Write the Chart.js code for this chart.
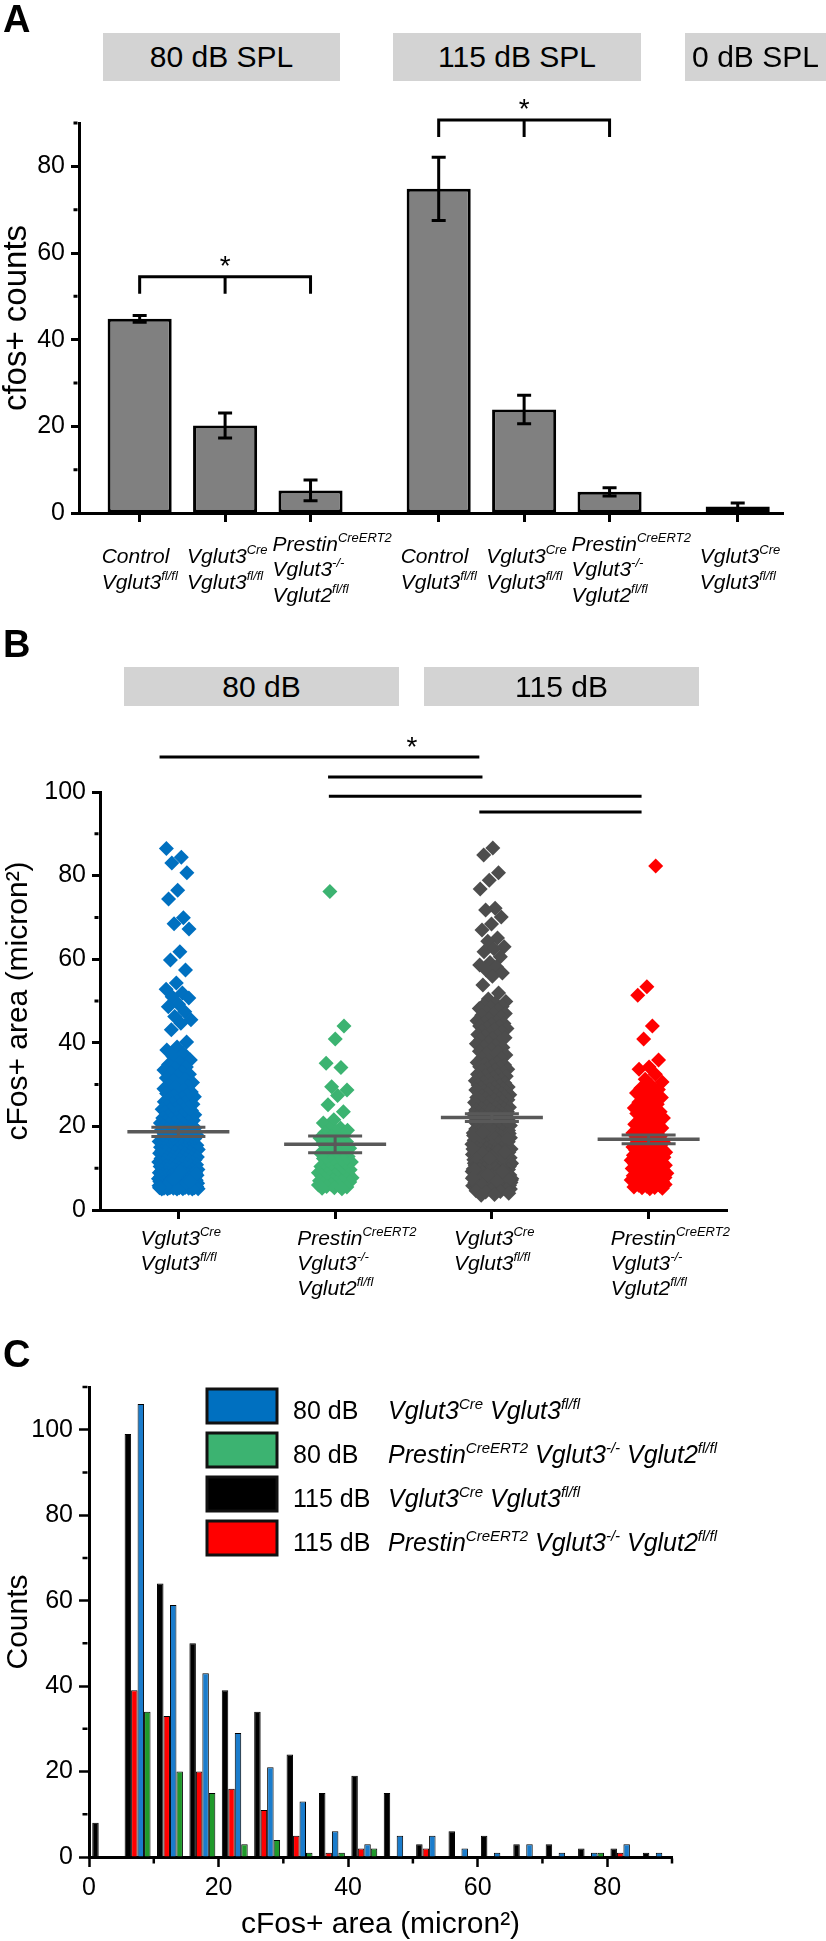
<!DOCTYPE html>
<html>
<head>
<meta charset="utf-8">
<title>cFos counts and areas</title>
<script src="https://cdn.jsdelivr.net/npm/chart.js@4.4.1/dist/chart.umd.min.js"></script>
<style>
  html, body { margin: 0; padding: 0; background: #fff; }
  body { position: relative; width: 826px; height: 1941px; overflow: hidden; font-family: "Liberation Sans", Arial, sans-serif; }
  canvas { position: absolute; left: 0; }
  .letter { position: absolute; left: 3px; font-size: 38px; font-weight: bold; line-height: 1; }
  .hdr { position: absolute; background: #d3d3d3; font-size: 30px; display: flex; align-items: center; justify-content: center; white-space: nowrap; overflow: hidden; }
</style>
</head>
<body>
<canvas id="chartA" width="826" height="620" style="top:0"></canvas>
<canvas id="chartB" width="826" height="700" style="top:620px"></canvas>
<canvas id="chartC" width="826" height="621" style="top:1320px"></canvas>
<div class="letter" style="top:0">A</div>
<div class="letter" style="top:625px">B</div>
<div class="letter" style="top:1335px">C</div>
<script>
// ---------- panel A : cfos+ counts ----------
const aHeaders = ['80 dB SPL', '115 dB SPL', '0 dB SPL'];
const aCategories = [
  ['Control', 'Vglut3^{fl/fl}'],
  ['Vglut3^{Cre}', 'Vglut3^{fl/fl}'],
  ['Prestin^{CreERT2}', 'Vglut3^{-/-}', 'Vglut2^{fl/fl}'],
  ['Control', 'Vglut3^{fl/fl}'],
  ['Vglut3^{Cre}', 'Vglut3^{fl/fl}'],
  ['Prestin^{CreERT2}', 'Vglut3^{-/-}', 'Vglut2^{fl/fl}'],
  ['Vglut3^{Cre}', 'Vglut3^{fl/fl}']
];
const aGroupSizes = [3, 3, 1];
const aMeans = [44.8, 20.2, 5.2, 74.8, 23.9, 4.9, 1.5];
const aSem = [0.8, 2.9, 2.4, 7.3, 3.3, 0.95, 0.8];
const aYTicks = [0, 20, 40, 60, 80];
const aYMinor = [10, 30, 50, 70, 90];
const aSig = [{from: 0, to: 2, y: 54.5}, {from: 3, to: 5, y: 90.7}];

// ---------- panel B : cFos+ area per cell ----------
const bHeaders = ['80 dB', '115 dB'];
const bCategories = [
  ['Vglut3^{Cre}', 'Vglut3^{fl/fl}'],
  ['Prestin^{CreERT2}', 'Vglut3^{-/-}', 'Vglut2^{fl/fl}'],
  ['Vglut3^{Cre}', 'Vglut3^{fl/fl}'],
  ['Prestin^{CreERT2}', 'Vglut3^{-/-}', 'Vglut2^{fl/fl}']
];
const bBlue = [86.5, 84.4, 83.0, 80.7, 76.5, 74.4, 69.9, 68.5, 67.2, 61.8, 59.8, 57.4, 54.3, 52.8, 51.9, 51.0, 50.7,
  49.2, 48.6, 47.4, 46.3, 45.5, 44.7, 43.1, 40.2, 39.0, 38.3, 37.5, 36.7, 35.9, 35.2,
  34.8, 34.2, 33.9, 33.5, 33.0, 32.8, 32.5, 32.1, 31.6, 31.3, 31.0, 30.5, 30.2,
  29.8, 29.6, 29.4, 29.0, 28.9, 28.6, 28.2, 28.0, 27.9, 27.5, 27.3, 27.1, 26.8, 26.6, 26.4, 26.0, 25.9, 25.7, 25.5, 25.3, 25.1,
  24.8, 24.5, 24.3, 24.1, 24.0, 23.9, 23.8, 23.6, 23.5, 23.2, 23.0, 22.8, 22.6, 22.5, 22.3, 22.1, 22.0, 21.9, 21.7, 21.5,
  21.4, 21.2, 21.1, 20.9, 20.8, 20.6, 20.5, 20.3, 20.1,
  19.9, 19.8, 19.7, 19.6, 19.5, 19.4, 19.3, 19.2, 19.1, 19.0, 18.8, 18.7, 18.6, 18.4, 18.3, 18.1, 18.0,
  17.9, 17.7, 17.6, 17.5, 17.4, 17.3, 17.2, 17.1, 17.0, 16.9, 16.8, 16.6, 16.4, 16.3, 16.2, 16.1, 16.0,
  15.9, 15.8, 15.7, 15.5, 15.4, 15.3, 15.2, 15.1, 15.0,
  14.9, 14.9, 14.8, 14.8, 14.7, 14.6, 14.6, 14.5, 14.4, 14.4, 14.3, 14.3, 14.2, 14.2, 14.1, 14.1, 14.0, 14.0,
  13.9, 13.8, 13.6, 13.5, 13.3, 13.2, 13.1, 13.0, 12.9, 12.8, 12.7, 12.6, 12.5, 12.5, 12.4, 12.3, 12.2, 12.1, 12.0,
  11.9, 11.8, 11.7, 11.6, 11.5, 11.4, 11.3, 11.3, 11.2, 11.1, 11.0, 10.9, 10.8, 10.7, 10.6, 10.6, 10.5, 10.4, 10.3, 10.2, 10.1, 10.0,
  9.9, 9.8, 9.8, 9.7, 9.6, 9.6, 9.5, 9.4, 9.4, 9.3, 9.2, 9.1, 9.1, 9.0, 9.0,
  8.9, 8.9, 8.8, 8.7, 8.7, 8.6, 8.5, 8.4, 8.4, 8.3, 8.2, 8.2, 8.1, 8.0, 8.0,
  7.9, 7.9, 7.8, 7.8, 7.7, 7.7, 7.6, 7.5, 7.5, 7.4, 7.4, 7.3, 7.3, 7.2, 7.1, 7.1, 7.0, 7.0,
  6.9, 6.9, 6.8, 6.8, 6.7, 6.7, 6.6, 6.6, 6.5, 6.5, 6.4, 6.4, 6.3, 6.3, 6.2, 6.2, 6.1, 6.1, 6.0, 6.0,
  5.9, 5.9, 5.9, 5.8, 5.8, 5.8, 5.7, 5.7, 5.7, 5.6, 5.6, 5.6, 5.5, 5.5, 5.5, 5.4, 5.4, 5.4, 5.3, 5.3,
  5.3, 5.2, 5.2, 5.2, 5.1, 5.1, 5.1, 5.0, 5.0, 5.0, 6.5, 7.2, 8.6, 9.2, 5.6, 6.8, 7.6, 5.3];
const bGreen = [76.2, 44.0, 40.9, 35.1, 34.1, 29.5, 28.7, 27.4, 25.2, 23.5, 21.6, 20.8,
  19.6, 19.3, 19.1, 18.8, 18.5, 18.0, 17.6, 17.2, 17.0, 16.8, 16.3, 16.0, 15.9, 15.5, 15.2,
  14.8, 14.5, 14.3, 14.0, 13.9, 13.6, 13.4, 13.0, 12.8, 12.6, 12.3, 12.1, 11.7, 11.5, 11.3, 11.0, 10.8, 10.6, 10.4, 10.1,
  9.8, 9.6, 9.5, 9.3, 9.2, 9.1, 8.9, 8.8, 8.6, 8.5, 8.4, 8.2, 8.1, 7.9, 7.7, 7.6, 7.5, 7.4, 7.2, 7.0,
  6.9, 6.8, 6.7, 6.5, 6.3, 6.2, 6.1, 6.0, 5.8, 5.6, 5.5, 5.3, 5.2, 5.1];
const bGray = [86.6, 84.9, 80.7, 78.9, 76.8, 72.2, 71.8, 70.1, 68.4, 67.0, 65.1, 64.3, 63.0, 62.5, 61.8, 60.6,
  59.2, 58.6, 58.2, 57.4, 56.7, 55.9, 53.8, 51.9, 50.5,
  49.9, 49.5, 49.1, 48.7, 48.4, 48.2, 47.8, 47.4, 47.0, 46.9, 46.6, 46.1, 45.7, 45.3, 45.0,
  44.8, 44.6, 44.4, 44.0, 43.9, 43.6, 43.4, 43.2, 42.8, 42.6, 42.4, 42.0, 41.8, 41.6, 41.2, 41.0, 40.8, 40.4, 40.1,
  39.8, 39.3, 39.0, 38.9, 38.4, 38.0, 37.8, 37.5, 37.1, 36.6, 36.4, 36.2, 35.7, 35.3, 35.1,
  34.9, 34.7, 34.5, 34.3, 34.1, 33.9, 33.7, 33.5, 33.3, 32.9, 32.7, 32.5, 32.3, 32.1, 32.0, 31.7, 31.5, 31.3, 31.1, 30.9,
  30.7, 30.5, 30.4, 30.2,
  29.9, 29.8, 29.6, 29.4, 29.3, 29.1, 29.0, 28.8, 28.7, 28.5, 28.4, 28.2, 28.1, 28.0, 27.9, 27.8, 27.6, 27.5, 27.3, 27.2,
  27.0, 26.9, 26.7, 26.6, 26.4, 26.3, 26.1, 26.0, 25.8, 25.7, 25.5, 25.4, 25.2, 25.1,
  24.9, 24.8, 24.7, 24.6, 24.5, 24.3, 24.2, 24.0, 23.9, 23.7, 23.6, 23.5, 23.4, 23.3, 23.1, 23.0, 22.9, 22.8, 22.7, 22.5,
  22.4, 22.3, 22.2, 22.1, 21.9, 21.8, 21.6, 21.5, 21.3, 21.2, 21.1, 21.0, 20.9, 20.7, 20.6, 20.4, 20.3, 20.2, 20.1,
  19.9, 19.7, 19.6, 19.4, 19.3, 19.1, 19.0, 18.9, 18.8, 18.6, 18.5, 18.4, 18.2, 18.1, 18.0, 17.9, 17.7, 17.6, 17.5, 17.3,
  17.2, 17.1, 16.9, 16.8, 16.7, 16.6, 16.4, 16.3, 16.2, 16.0, 15.9, 15.8, 15.7, 15.5, 15.4, 15.3, 15.2, 15.1, 15.0, 19.5,
  18.3, 17.4, 16.5, 15.6, 19.2, 17.8, 16.1, 18.7, 17.0, 15.4,
  14.9, 14.8, 14.7, 14.6, 14.5, 14.4, 14.3, 14.2, 14.1, 14.0, 13.9, 13.8, 13.7, 13.6, 13.5, 13.4, 13.3, 13.2, 13.1, 13.0,
  12.9, 12.8, 12.7, 12.6, 12.5, 12.4, 12.3, 12.2, 12.1, 12.0, 11.9, 11.8, 11.7, 11.6, 11.5, 11.4, 11.3, 11.2, 11.1, 11.0,
  10.9, 10.8, 10.7, 10.6, 10.5, 10.4, 10.3, 10.2, 10.1, 10.0, 14.6, 14.1, 13.5, 13.0, 12.6, 12.2, 11.8, 11.4, 11.0, 10.7,
  10.3, 13.8, 12.4, 11.2,
  9.9, 9.8, 9.7, 9.6, 9.5, 9.4, 9.3, 9.2, 9.1, 9.0, 8.9, 8.8, 8.7, 8.6, 8.5, 8.4, 8.3, 8.2, 8.1, 8.0,
  7.9, 7.8, 7.7, 7.6, 7.5, 7.4, 7.3, 7.2, 7.1, 7.0, 6.9, 6.8, 6.7, 6.6, 6.5, 6.4, 6.3, 6.2, 6.1, 6.0,
  5.9, 5.8, 5.7, 5.6, 5.5, 5.4, 5.3, 5.2, 5.1, 5.0, 9.9, 9.7, 9.5, 9.3, 9.1, 8.9, 8.7, 8.5, 8.3, 8.1,
  7.9, 7.7, 7.5, 7.3, 7.1, 6.9, 6.7, 6.5, 6.3, 6.1, 5.9, 5.7, 5.5, 5.3, 5.1, 9.8, 9.4, 9.0, 8.6, 8.2,
  7.8, 7.4, 7.0, 6.6, 6.2, 5.8, 5.4, 5.0, 9.6, 8.8, 8.0, 7.2, 6.4, 5.6, 9.2, 8.4, 7.6, 6.8, 6.0,
  4.9, 4.8, 4.6, 4.4, 4.3, 4.0, 3.7, 3.5];
const bRed = [82.3, 53.4, 51.4, 44.0, 40.9, 35.9, 34.2, 33.7, 32.5, 31.3, 30.6,
  29.7, 29.1, 28.8, 28.5, 28.0, 27.4, 27.0, 26.9, 26.3, 25.8, 25.3,
  24.8, 24.4, 24.1, 23.9, 23.5, 23.3, 23.1, 22.6, 22.2, 22.0, 21.8, 21.3, 21.0, 20.9, 20.5, 20.2,
  19.8, 19.6, 19.4, 19.0, 18.9, 18.6, 18.4, 18.2, 17.8, 17.6, 17.4, 17.0, 16.9, 16.6, 16.2, 16.0, 15.8, 15.6, 15.4, 15.1,
  14.9, 14.7, 14.6, 14.4, 14.3, 14.2, 14.0, 13.8, 13.7, 13.5, 13.4, 13.3, 13.1, 12.9, 12.8, 12.6, 12.5, 12.4, 12.2, 12.0,
  11.9, 11.8, 11.6, 11.5, 11.3, 11.1, 11.0, 10.9, 10.7, 10.6, 10.4, 10.2, 10.1,
  9.9, 9.8, 9.6, 9.5, 9.4, 9.3, 9.1, 9.0, 8.8, 8.7, 8.6, 8.5, 8.4, 8.2, 8.1, 7.9, 7.8, 7.7, 7.6, 7.5,
  7.3, 7.2, 7.0, 6.9, 6.8, 6.7, 6.6, 6.4, 6.3, 6.1, 6.0, 5.9, 5.8, 5.7, 5.5, 5.4, 5.3, 5.2, 5.1];
const bMeans = [18.7, 15.7, 22.1, 16.9];
const bSem = [1.1, 2.0, 0.9, 1.05];
const bYTicks = [0, 20, 40, 60, 80, 100];
const bYMinor = [10, 30, 50, 70, 90];
// significance lines: [from x, to x, y]; the star sits over the first one
const bSig = [[0.88, 2.92, 108.4], [1.955, 2.94, 103.6], [1.96, 3.955, 99.0], [2.92, 3.955, 95.2]];
const bStar = {x: 2.49, y: 108.4};

// ---------- panel C : histogram of cFos+ area ----------
const cBins = [0, 5, 10, 15, 20, 25, 30, 35, 40, 45, 50, 55, 60, 65, 70, 75, 80, 85];
const cBlack = [8, 99, 64, 50, 39, 34, 24, 15, 19, 15, 3, 6, 5, 3, 3, 2, 2, 1];
const cRed = [0, 39, 33, 20, 16, 11, 5, 1, 2, 0, 2, 0, 0, 0, 0, 0, 1, 0];
const cBlue = [0, 106, 59, 43, 29, 21, 13, 6, 3, 5, 5, 2, 1, 3, 1, 1, 3, 1];
const cGreen = [0, 34, 20, 15, 3, 4, 1, 1, 2, 0, 0, 0, 0, 0, 0, 1, 0, 0];
const cXTicks = [0, 20, 40, 60, 80];
const cXMinor = [10, 30, 50, 70, 90];
const cYTicks = [0, 20, 40, 60, 80, 100];
const cYMinor = [10, 30, 50, 70, 90, 110];
const cLegend = [
  {level: '80 dB', genotype: 'Vglut3^{Cre} Vglut3^{fl/fl}', color: '#0070c0'},
  {level: '80 dB', genotype: 'Prestin^{CreERT2} Vglut3^{-/-} Vglut2^{fl/fl}', color: '#3cb371'},
  {level: '115 dB', genotype: 'Vglut3^{Cre} Vglut3^{fl/fl}', color: '#000000'},
  {level: '115 dB', genotype: 'Prestin^{CreERT2} Vglut3^{-/-} Vglut2^{fl/fl}', color: '#ff0000'}
];

// ---------- helpers ----------
const FONT = '"Liberation Sans", Arial, Helvetica, sans-serif';
Chart.defaults.font.family = FONT;
Chart.defaults.color = '#000';

function addHeaders(texts, boxes) {
  texts.forEach((t, i) => {
    const b = boxes[i];
    const d = document.createElement('div');
    d.className = 'hdr';
    d.textContent = t;
    d.style.left = b[0] + 'px'; d.style.top = b[1] + 'px';
    d.style.width = b[2] + 'px'; d.style.height = b[3] + 'px';
    document.body.appendChild(d);
  });
}
addHeaders(aHeaders, [[103, 33, 237, 48], [393, 33, 248, 48], [685, 33, 141, 48]]);
addHeaders(bHeaders, [[124, 667, 275, 39], [424, 667, 275, 39]]);

// "Vglut3^{fl/fl}" -> text pieces, superscripts marked
function pieces(s) {
  return s.split(/(\^\{[^}]*\})/).filter(p => p).map(p =>
    p.startsWith('^{') ? {t: p.slice(2, -1), sup: true} : {t: p, sup: false});
}
function richText(ctx, s, x, y, size, supSize, align) {
  const parts = pieces(s);
  const f = sz => 'italic ' + sz + 'px ' + FONT;
  let w = 0;
  parts.forEach(p => { ctx.font = f(p.sup ? supSize : size); p.w = ctx.measureText(p.t).width; w += p.w; });
  let cx = align === 'center' ? x - w / 2 : x;
  ctx.textAlign = 'left';
  ctx.textBaseline = 'alphabetic';
  parts.forEach(p => {
    ctx.font = f(p.sup ? supSize : size);
    ctx.fillText(p.t, cx, p.sup ? y - size * 0.42 : y);
    cx += p.w;
  });
}
// tick labels under a category: lines left-aligned a fixed distance left of the tick
function categoryLabels(chart, labels, positions, baseY, lineH, centered) {
  const ctx = chart.ctx, xs = chart.scales.x;
  ctx.save();
  ctx.fillStyle = '#000';
  labels.forEach((lines, i) => {
    const x = xs.getPixelForValue(positions[i]) - 38;
    const y0 = centered ? baseY - (lines.length - 1) * lineH / 2 : baseY;
    lines.forEach((ln, k) => richText(ctx, ln, x, y0 + k * lineH, 21, 13, 'left'));
  });
  ctx.restore();
}
function minorTicks(chart, axisId, values, len, width) {
  const s = chart.scales[axisId], ctx = chart.ctx, a = chart.chartArea;
  ctx.save();
  ctx.strokeStyle = '#000';
  ctx.lineWidth = width;
  ctx.beginPath();
  values.forEach(v => {
    const p = s.getPixelForValue(v);
    if (s.isHorizontal()) { ctx.moveTo(p, a.bottom + 1.5); ctx.lineTo(p, a.bottom + 1.5 + len); }
    else { ctx.moveTo(a.left - 1.5, p); ctx.lineTo(a.left - 1.5 - len, p); }
  });
  ctx.stroke();
  ctx.restore();
}
function axisStyle(extra) {
  return Object.assign({
    offset: false,
    grid: {offset: false, drawOnChartArea: false, tickLength: 8, tickWidth: 3, tickColor: '#000'},
    border: {width: 3, color: '#000'}
  }, extra);
}

// positions of the bars in panel A: groups separated by half a slot
const aPos = [];
{
  let p = 1;
  aGroupSizes.forEach(n => { for (let k = 0; k < n; k++) aPos.push(p++); p += 0.5; });
}

// ---------- chart A ----------
const panelA = {
  id: 'panelA',
  afterDatasetsDraw(chart) {
    const ctx = chart.ctx, xs = chart.scales.x, ys = chart.scales.y;
    ctx.save();
    ctx.strokeStyle = '#000';
    ctx.lineWidth = 3;
    aPos.forEach((p, i) => {
      const x = xs.getPixelForValue(p);
      const t = ys.getPixelForValue(aMeans[i] + aSem[i]);
      const b = ys.getPixelForValue(aMeans[i] - aSem[i]);
      ctx.beginPath();
      ctx.moveTo(x, t); ctx.lineTo(x, b);
      ctx.moveTo(x - 7, t); ctx.lineTo(x + 7, t);
      ctx.moveTo(x - 7, b); ctx.lineTo(x + 7, b);
      ctx.stroke();
    });
    ctx.restore();
  },
  afterDraw(chart) {
    const ctx = chart.ctx, xs = chart.scales.x, ys = chart.scales.y;
    minorTicks(chart, 'y', aYMinor, 4, 3);
    ctx.save();
    ctx.strokeStyle = '#000';
    ctx.fillStyle = '#000';
    ctx.lineWidth = 3;
    aSig.forEach(s => {
      const x1 = xs.getPixelForValue(aPos[s.from]);
      const x2 = xs.getPixelForValue(aPos[s.to]);
      const xm = xs.getPixelForValue(aPos[(s.from + s.to) / 2]);
      const y = ys.getPixelForValue(s.y);
      ctx.beginPath();
      ctx.moveTo(x1, y + 17); ctx.lineTo(x1, y); ctx.lineTo(x2, y); ctx.lineTo(x2, y + 17);
      ctx.moveTo(xm, y); ctx.lineTo(xm, y + 17);
      ctx.stroke();
      ctx.font = '28px ' + FONT;
      ctx.textAlign = 'center';
      ctx.textBaseline = 'alphabetic';
      ctx.fillText('*', xm, y - 2);
    });
    ctx.restore();
    categoryLabels(chart, aCategories, aPos, chart.chartArea.bottom + 63, 25.5, true);
  }
};

new Chart(document.getElementById('chartA'), {
  type: 'bar',
  data: {
    datasets: [{
      data: aPos.map((x, i) => ({x: x, y: aMeans[i]})),
      backgroundColor: '#808080',
      borderColor: '#000',
      borderWidth: 3,
      borderSkipped: false,
      barPercentage: 0.75,
      categoryPercentage: 1
    }]
  },
  options: {
    responsive: false,
    animation: false,
    devicePixelRatio: 1,
    layout: {padding: {top: 123, left: 0, right: 43, bottom: 98}},
    plugins: {legend: {display: false}, tooltip: {enabled: false}},
    scales: {
      x: axisStyle({
        type: 'linear', min: 0.29, max: 8.53,
        afterBuildTicks: s => { s.ticks = aPos.map(v => ({value: v})); },
        ticks: {callback: () => ''},
        grid: {offset: false, drawOnChartArea: false, tickLength: 9, tickWidth: 3, tickColor: '#000'},
        afterFit: s => { s.height = 9; }
      }),
      y: axisStyle({
        min: 0, max: 90,
        afterBuildTicks: s => { s.ticks = aYTicks.map(v => ({value: v})); },
        ticks: {font: {size: 25}, padding: 6, color: '#000'},
        title: {display: true, text: 'cfos+ counts', font: {size: 33, lineHeight: 1}, padding: 0, color: '#000'},
        afterFit: s => { s.width = 79; }
      })
    }
  },
  plugins: [panelA]
});

// ---------- chart B ----------
const bColors = ['#0070c0', '#3cb371', '#4d4d4d', '#ff0000'];
const bSeries = [bBlue, bGreen, bGray, bRed];
const bPos = bCategories.map((c, i) => i + 1);
const bPxPerUnit = (727 - 100) / 4;

// column layout of the points: wider where values are dense
function swarm(values, center, seed) {
  return values.map((v, i) => {
    let d = 0;
    values.forEach(w => { if (Math.abs(w - v) < 2.5) d++; });
    const half = Math.min(20, 10 + 1.4 * Math.sqrt(d));
    const u = ((i * 0.6180339887 + seed) % 1) * 2 - 1;
    return {x: center + u * half / bPxPerUnit, y: v};
  });
}

const panelB = {
  id: 'panelB',
  afterDatasetsDraw(chart) {
    const ctx = chart.ctx, xs = chart.scales.x, ys = chart.scales.y;
    ctx.save();
    ctx.strokeStyle = '#595959';
    bMeans.forEach((m, i) => {
      const x = xs.getPixelForValue(bPos[i]);
      const ym = ys.getPixelForValue(m);
      const yt = ys.getPixelForValue(m + bSem[i]);
      const yb = ys.getPixelForValue(m - bSem[i]);
      ctx.lineWidth = 3.5;
      ctx.beginPath(); ctx.moveTo(x - 51, ym); ctx.lineTo(x + 51, ym); ctx.stroke();
      ctx.lineWidth = 3;
      ctx.beginPath();
      ctx.moveTo(x - 27, yt); ctx.lineTo(x + 27, yt);
      ctx.moveTo(x - 27, yb); ctx.lineTo(x + 27, yb);
      ctx.moveTo(x, yt); ctx.lineTo(x, yb);
      ctx.stroke();
    });
    ctx.restore();
  },
  afterDraw(chart) {
    const ctx = chart.ctx, xs = chart.scales.x, ys = chart.scales.y;
    minorTicks(chart, 'y', bYMinor, 4, 3);
    ctx.save();
    ctx.strokeStyle = '#000';
    ctx.lineWidth = 3;
    ctx.beginPath();
    bSig.forEach(s => {
      const y = ys.getPixelForValue(s[2]);
      ctx.moveTo(xs.getPixelForValue(s[0]), y);
      ctx.lineTo(xs.getPixelForValue(s[1]), y);
    });
    ctx.stroke();
    ctx.fillStyle = '#000';
    ctx.font = '28px ' + FONT;
    ctx.textAlign = 'center';
    ctx.fillText('*', xs.getPixelForValue(bStar.x), ys.getPixelForValue(bStar.y) - 1);
    ctx.restore();
    categoryLabels(chart, bCategories, bPos, chart.chartArea.bottom + 35, 25, false);
  }
};

new Chart(document.getElementById('chartB'), {
  type: 'scatter',
  data: {
    datasets: bSeries.map((vals, i) => ({
      data: swarm(vals, bPos[i], i * 0.27),
      backgroundColor: bColors[i],
      borderWidth: 0,
      pointStyle: 'rectRot',
      pointRadius: 7.5,
      pointHoverRadius: 7.5
    }))
  },
  options: {
    responsive: false,
    animation: false,
    devicePixelRatio: 1,
    layout: {padding: {top: 172, left: 0, right: 99, bottom: 101}},
    plugins: {legend: {display: false}, tooltip: {enabled: false}},
    scales: {
      x: axisStyle({
        type: 'linear', min: 0.5, max: 4.5,
        afterBuildTicks: s => { s.ticks = bPos.map(v => ({value: v})); },
        ticks: {callback: () => ''},
        grid: {offset: false, drawOnChartArea: false, tickLength: 9, tickWidth: 3, tickColor: '#000'},
        afterFit: s => { s.height = 9; }
      }),
      y: axisStyle({
        min: 0, max: 100,
        afterBuildTicks: s => { s.ticks = bYTicks.map(v => ({value: v})); },
        ticks: {font: {size: 25}, padding: 6, color: '#000'},
        title: {display: true, text: 'cFos+ area (micron\u00B2)', font: {size: 30, lineHeight: 1.2}, padding: 1, color: '#000'},
        afterFit: s => { s.width = 100; }
      })
    }
  },
  plugins: [panelB]
});

// ---------- chart C ----------
const binWidth = cBins[1] - cBins[0];
const cSeries = [
  {counts: cBlack, color: '#000000', label: cLegend[2]},
  {counts: cRed, color: '#ff0000', label: cLegend[3]},
  {counts: cBlue, color: '#1a7ccc', label: cLegend[0]},
  {counts: cGreen, color: '#1f9a2a', label: cLegend[1]}
];

const panelC = {
  id: 'panelC',
  afterDraw(chart) {
    const ctx = chart.ctx;
    minorTicks(chart, 'y', cYMinor, 5, 2.5);
    minorTicks(chart, 'x', cXMinor, 5, 2.5);
    ctx.save();
    cLegend.forEach((item, i) => {
      const top = 69 + i * 44;
      ctx.fillStyle = item.color;
      ctx.fillRect(207, top, 70, 34);
      ctx.strokeStyle = '#111';
      ctx.lineWidth = 3;
      ctx.strokeRect(207, top, 70, 34);
      ctx.fillStyle = '#000';
      ctx.font = '25px ' + FONT;
      ctx.textAlign = 'left';
      ctx.textBaseline = 'alphabetic';
      ctx.fillText(item.level, 293, top + 30);
      richText(ctx, item.genotype, 388, top + 30, 25, 15, 'left');
    });
    ctx.restore();
  }
};

new Chart(document.getElementById('chartC'), {
  type: 'bar',
  data: {
    datasets: cSeries.map(s => ({
      label: s.label.level + ' ' + s.label.genotype,
      data: cBins.map((b, i) => ({x: b + binWidth / 2, y: s.counts[i]})),
      backgroundColor: s.color,
      borderColor: '#000',
      borderWidth: 1,
      borderSkipped: 'start',
      barPercentage: 1,
      categoryPercentage: 0.8
    }))
  },
  options: {
    responsive: false,
    animation: false,
    devicePixelRatio: 1,
    layout: {padding: {top: 67, left: 0, right: 154, bottom: 0}},
    plugins: {legend: {display: false}, tooltip: {enabled: false}},
    scales: {
      x: axisStyle({
        type: 'linear', min: 0, max: 90,
        afterBuildTicks: s => { s.ticks = cXTicks.map(v => ({value: v})); },
        ticks: {font: {size: 25}, padding: 6, color: '#000', maxRotation: 0},
        grid: {offset: false, drawOnChartArea: false, tickLength: 10, tickWidth: 2.5, tickColor: '#000'},
        title: {display: true, text: 'cFos+ area (micron\u00B2)', font: {size: 30, lineHeight: 1}, padding: 1, color: '#000'},
        afterFit: s => { s.height = 84; }
      }),
      y: axisStyle({
        min: 0, max: 110,
        afterBuildTicks: s => { s.ticks = cYTicks.map(v => ({value: v})); },
        ticks: {font: {size: 25}, padding: 6, color: '#000'},
        grid: {offset: false, drawOnChartArea: false, tickLength: 10, tickWidth: 2.5, tickColor: '#000'},
        title: {display: true, text: 'Counts', font: {size: 30, lineHeight: 1.2}, padding: 1, color: '#000'},
        afterFit: s => { s.width = 89; }
      })
    }
  },
  plugins: [panelC]
});
</script>
</body>
</html>
